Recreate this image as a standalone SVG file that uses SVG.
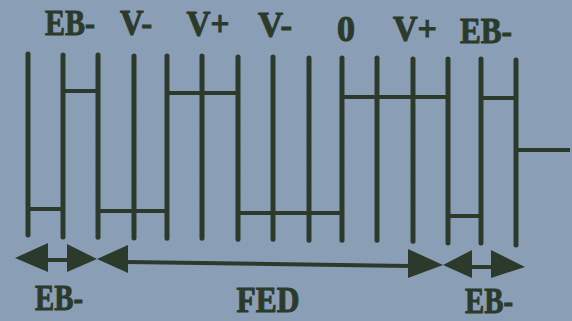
<svg xmlns="http://www.w3.org/2000/svg" width="572" height="321" viewBox="0 0 572 321">
<defs>
<style>
.bg{fill:#8a9fb5}
.v{stroke:#2c3a2c;stroke-width:5;stroke-linecap:round;fill:none;stroke-dasharray:2.2 0.8}
.w{stroke:#2c3a2c;stroke-width:4;fill:none;stroke-linejoin:miter}
.l{stroke:#2c3a2c;stroke-width:4;fill:none}
.ah{fill:#2c3a2c}
.t{font-family:"Liberation Serif","Times New Roman",serif;font-weight:bold;font-size:35px;fill:#2c3a2c;stroke:#2c3a2c;stroke-width:1;text-anchor:middle}
</style>
</defs>
<rect class="bg" x="0" y="0" width="572" height="321"/>
<g id="labels-top">
<text class="t" x="70" y="35" textLength="50" lengthAdjust="spacingAndGlyphs">EB-</text>
<text class="t" x="136" y="35" textLength="32" lengthAdjust="spacingAndGlyphs">V-</text>
<text class="t" x="208" y="36" textLength="43" lengthAdjust="spacingAndGlyphs">V+</text>
<text class="t" x="275" y="37" textLength="34" lengthAdjust="spacingAndGlyphs">V-</text>
<text class="t" x="346" y="41" textLength="18" lengthAdjust="spacingAndGlyphs">0</text>
<text class="t" x="415" y="41" textLength="44" lengthAdjust="spacingAndGlyphs">V+</text>
<text class="t" x="486" y="43" textLength="52" lengthAdjust="spacingAndGlyphs">EB-</text>
</g>
<g id="grid">
<line class="v" x1="28" y1="54" x2="28" y2="235"/>
<line class="v" x1="63" y1="55" x2="63" y2="237"/>
<line class="v" x1="98" y1="55" x2="98" y2="238"/>
<line class="v" x1="134" y1="56" x2="134" y2="238"/>
<line class="v" x1="167" y1="56" x2="167" y2="239"/>
<line class="v" x1="202" y1="56" x2="202" y2="239"/>
<line class="v" x1="238" y1="57" x2="238" y2="240"/>
<line class="v" x1="273" y1="57" x2="273" y2="240"/>
<line class="v" x1="309" y1="58" x2="309" y2="241"/>
<line class="v" x1="342" y1="58" x2="342" y2="241"/>
<line class="v" x1="377" y1="58" x2="377" y2="241"/>
<line class="v" x1="413" y1="59" x2="413" y2="242"/>
<line class="v" x1="448" y1="59" x2="448" y2="243"/>
<line class="v" x1="481" y1="59" x2="481" y2="243"/>
<line class="v" x1="516" y1="60" x2="516" y2="245"/>
</g>
<g id="waveform">
<polyline class="w" points="28,209 63,209 63,91 98,91 98,211 167,211 167,93 238,93 238,213 342,213 342,97 448,97 448,216 481,216 481,98 516,98 516,150 570,150"/>
</g>
<g id="connectors">
<line class="l" x1="46" y1="260" x2="69" y2="260"/>
<line class="l" x1="126" y1="262" x2="410" y2="266"/>
<line class="l" x1="470" y1="267" x2="494" y2="267"/>
<polygon class="ah" points="15,258 48,243 48,272"/>
<polygon class="ah" points="97,259 67,244 67,272"/>
<polygon class="ah" points="97,259 128,245 128,273"/>
<polygon class="ah" points="443,265 408,249 408,278"/>
<polygon class="ah" points="443,265 472,250 472,278"/>
<polygon class="ah" points="525,267 491,250 491,278"/>
</g>
<g id="labels-bottom">
<text class="t" x="59" y="310" font-size="34" textLength="48" lengthAdjust="spacingAndGlyphs">EB-</text>
<text class="t" x="268" y="312" font-size="34" textLength="63" lengthAdjust="spacingAndGlyphs">FED</text>
<text class="t" x="489" y="313" font-size="32" textLength="48" lengthAdjust="spacingAndGlyphs">EB-</text>
</g>
</svg>
